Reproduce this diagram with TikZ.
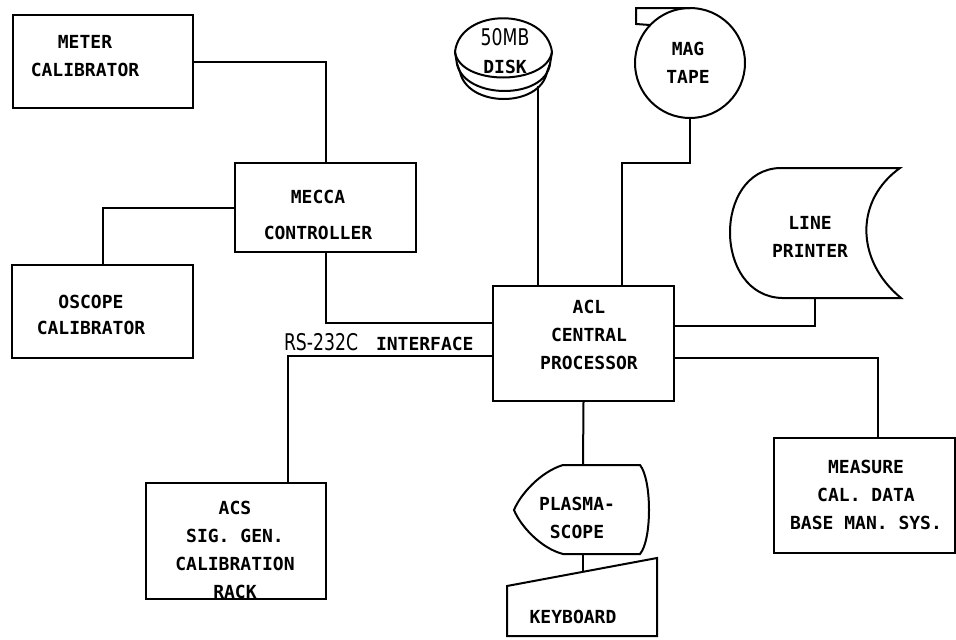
\documentclass[tikz,border=0pt]{standalone}
\usepackage{fontspec}
\newfontfamily\monofont{DejaVu Sans Mono}
\newfontfamily\narrowfont[FakeStretch=0.75]{DejaVu Sans}
\usetikzlibrary{calc}

\begin{document}
\begin{tikzpicture}[x=1pt, y=-1pt, line width=2pt, line join=miter,
  box/.style={draw, rectangle, inner sep=0pt},
  lbl/.style={font=\monofont\bfseries\fontsize{18}{28}\selectfont, align=center, inner sep=0pt},
  rs/.style={font=\narrowfont\fontsize{23}{23}\selectfont, inner sep=0pt}]
  \useasboundingbox (0,0) rectangle (956,640);

  % rechteckige Geraete
  \node[box, minimum width=180pt, minimum height=93pt]  (meter)   at (103,61.5)    {};
  \node[box, minimum width=181pt, minimum height=89pt]  (mecca)   at (325.5,207.5) {};
  \node[box, minimum width=181pt, minimum height=93pt]  (oscope)  at (102.5,311.5) {};
  \node[box, minimum width=181pt, minimum height=115pt] (acl)     at (583.5,343.5) {};
  \node[box, minimum width=180pt, minimum height=116pt] (acs)     at (236,541)     {};
  \node[box, minimum width=181pt, minimum height=115pt] (measure) at (864.5,495.5) {};

  % Plattenspeicher
  \coordinate (disk-out) at (538,86);
  \draw (455,52) .. controls (460,7) and (546,7) .. (552,52)
        .. controls (546,86) and (460,86) .. (455,52) -- cycle;
  \draw (455,52) -- (457,64) .. controls (465,100) and (545,100) .. (550,64) -- (552,52);
  \draw (457,64) -- (460,72) .. controls (468,108) and (540,108) .. (547,72) -- (550,64);

  % Magnetband
  \node[draw, circle, minimum size=110pt, inner sep=0pt] (tape) at (690,63) {};
  \draw (650,25) -- (636,24) -- (636,8) -- (690,8);
  \coordinate (tape-bend) at (622,163);

  % Drucker
  \draw (780,168) .. controls (713,170) and (713,296) .. (782,298) -- (901,298)
        .. controls (855,260) and (855,200) .. (900,168) -- cycle;
  \coordinate (printer-in) at (815,298);

  % Plasmabildschirm und Tastatur
  \draw (563,465) -- (640,465) .. controls (652,480) and (652,540) .. (640,554)
        -- (563,554) .. controls (540,548) and (520,525) .. (514,510)
        .. controls (520,495) and (540,472) .. cycle;
  \coordinate (plasma-top) at (583,465);
  \coordinate (plasma-bot) at (583,554);
  \draw (507,586) -- (657,558) -- (657,636) -- (507,636) -- cycle;
  \coordinate (kbd-top) at (583,572);

  % Verbindungen
  \draw (meter.east) -| (mecca.north);
  \draw (mecca.west) -| (oscope.north);
  \draw (mecca.south) |- ([yshift=20.5pt]acl.west);
  \draw ([yshift=-12.5pt]acl.west) -| ([xshift=52pt]acs.north);
  \draw (disk-out) -- (disk-out |- acl.north);
  \draw (tape.south) |- (tape-bend) -- (tape-bend |- acl.north);
  \draw ([yshift=17.5pt]acl.east) -| (printer-in);
  \draw ([yshift=-14.5pt]acl.east) -| ([xshift=13.5pt]measure.north);
  \draw (acl.south) -- (plasma-top);
  \draw (plasma-bot) -- (kbd-top);

  % Beschriftungen
  \node[lbl] (meter-t)   at (85,56)     {METER\\CALIBRATOR};
  \node[lbl] (mecca-t)   at (318,215)   {MECCA\\[8pt]CONTROLLER};
  \node[lbl] (oscope-t)  at (91,315)    {OSCOPE\\[-2pt]CALIBRATOR};
  \node[lbl] (acl-t)     at (589,334.5) {ACL\\CENTRAL\\PROCESSOR};
  \node[lbl] (acs-t)     at (235,549.5) {ACS\\SIG. GEN.\\CALIBRATION\\RACK};
  \node[lbl] (measure-t) at (866,495)   {MEASURE\\CAL. DATA\\BASE MAN. SYS.};
  \node[rs]  (disk-mb)   at (505,37)    {50MB};
  \node[lbl] (disk-t)    at (505,67)    {DISK};
  \node[lbl] (tape-t)    at (688,62.5)  {MAG\\TAPE};
  \node[lbl] (printer-t) at (810,236.5) {LINE\\PRINTER};
  \node[lbl] (plasma-t)  at (577,517.5) {PLASMA-\\SCOPE};
  \node[lbl] (kbd-t)     at (573,617)   {KEYBOARD};
  \node[rs, anchor=base west]  (rs232) at (283,350) {RS-232C};
  \node[lbl, anchor=base west] (iface) at (375,350) {INTERFACE};
\end{tikzpicture}
\end{document}
